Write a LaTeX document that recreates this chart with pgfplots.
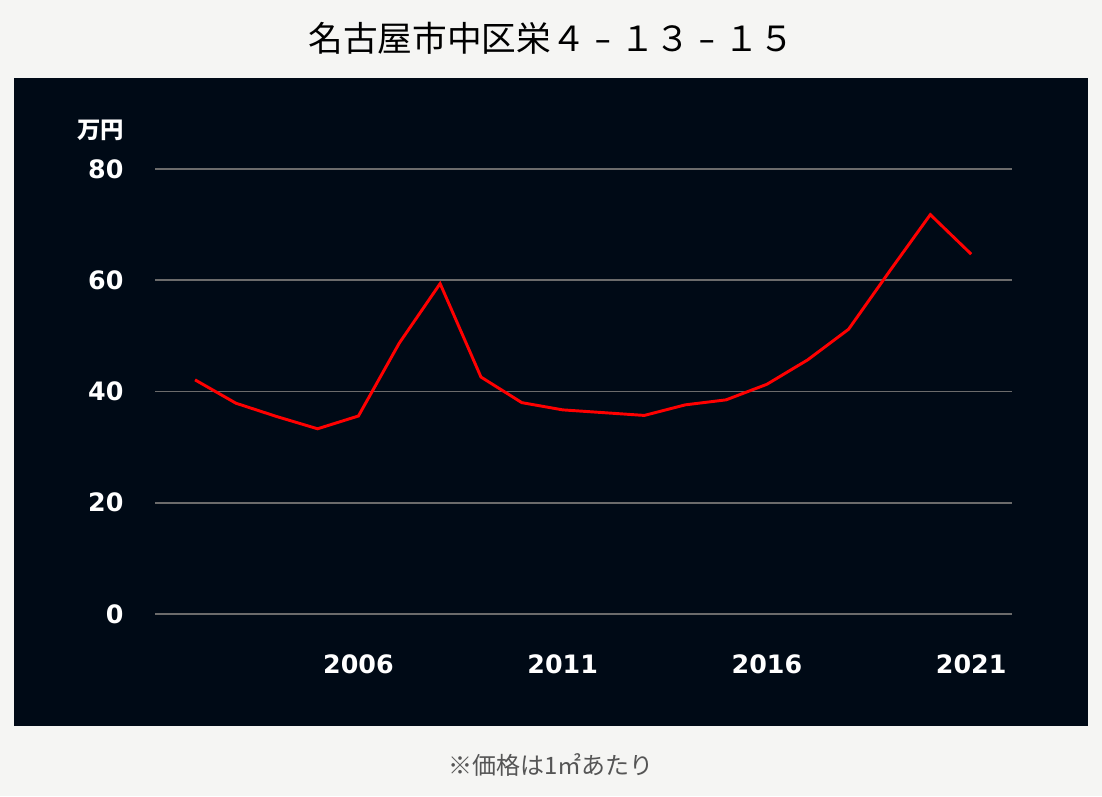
\documentclass[border=0pt]{standalone}
\usepackage{fontspec}
\usepackage{graphicx}
\usepackage{pgfplots}
\pgfplotsset{compat=1.18}
\setmainfont{DejaVu Sans}
\newfontfamily\cjk{Noto Sans CJK JP}
\definecolor{bg}{HTML}{F5F5F3}
\definecolor{panel}{HTML}{000A16}
\definecolor{gridc}{HTML}{6B6B6B}
\definecolor{redl}{HTML}{FF0000}
\definecolor{note}{HTML}{555555}
\newcommand{\fwdash}{\makebox[1em][c]{\scalebox{1.45}[1]{-}}}
\pgfplotstableread{
year value
2002 42.1
2003 37.9
2004 35.5
2005 33.3
2006 35.6
2007 48.7
2008 59.4
2009 42.6
2010 38.0
2011 36.7
2012 36.2
2013 35.7
2014 37.6
2015 38.5
2016 41.3
2017 45.7
2018 51.2
2019 61.6
2020 71.8
2021 64.7
}\datatable
\begin{document}
\begin{tikzpicture}
\fill[bg] (0pt,0pt) rectangle (826.5pt,-597pt);
\fill[panel] (10.5pt,-58.5pt) rectangle (816pt,-544.5pt);
\node[font=\cjk\fontsize{26}{30}\selectfont, text=black] at (413.25pt,-28.5pt) {名古屋市中区栄４\fwdash１３\fwdash１５};
\node[font=\cjk\fontsize{18}{22}\selectfont, text=note] at (413.25pt,-573.75pt) {※価格は1㎡あたり};
\node[font=\cjk\bfseries\fontsize{17.5}{20}\selectfont, text=white, anchor=east, inner sep=0pt] at (93pt,-97.5pt) {万円};
\begin{axis}[
  at={(116.25pt,-460.5pt)}, anchor=south west,
  scale only axis,
  width=642.75pt, height=333.75pt,
  xmin=2001.02, xmax=2022.0,
  ymin=0, ymax=80,
  ytick={0,20,40,60,80},
  xtick={2006,2011,2016,2021},
  axis line style={draw=none},
  major tick length=0pt,
  ymajorgrids,
  grid style={gridc, line width=1.3pt},
  /pgf/number format/assume math mode=true,
  /pgf/number format/1000 sep={},
  tick label style={font=\bfseries\fontsize{19}{22}\selectfont, text=white},
  yticklabel style={anchor=east, inner sep=0pt, xshift=-23.5pt},
  xticklabel style={anchor=north, inner sep=0pt, yshift=-30pt},
  clip=false,
]
\addplot[redl, line width=2.2pt, line join=miter] table[x=year, y=value] {\datatable};
\end{axis}
\end{tikzpicture}
\end{document}
